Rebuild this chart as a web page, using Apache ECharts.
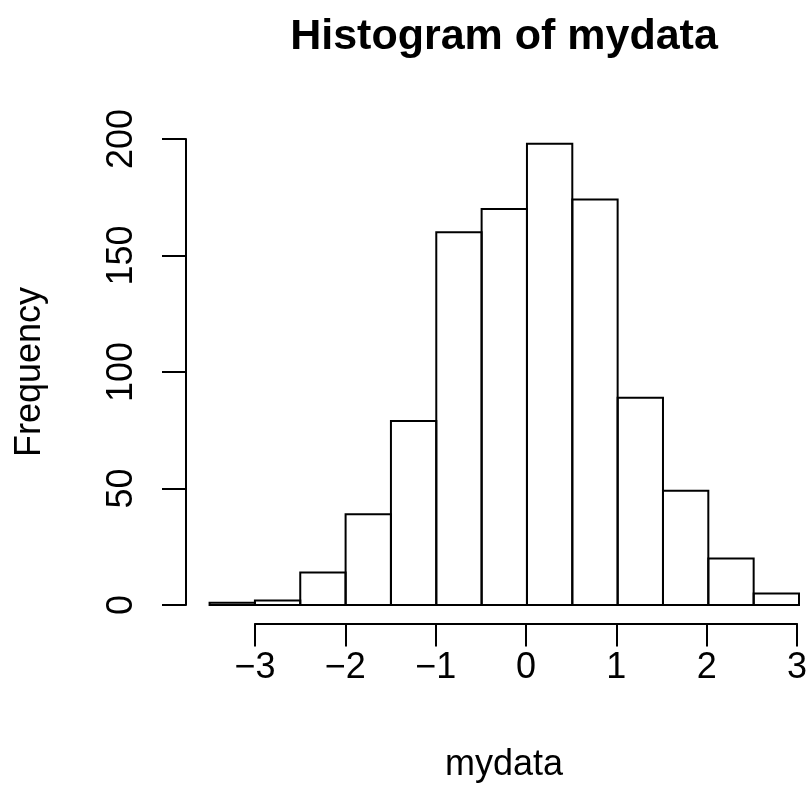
<!DOCTYPE html>
<html>
<head>
<meta charset="utf-8">
<script src="https://cdn.jsdelivr.net/npm/echarts@6/dist/echarts.min.js"></script>
<style>
html,body{margin:0;padding:0;background:#fff;}
#c{width:810px;height:806px;}
</style>
</head>
<body>
<div id="c"></div>
<script>
// Data
var binStarts = [-3.5, -3.0, -2.5, -2.0, -1.5, -1.0, -0.5, 0.0, 0.5, 1.0, 1.5, 2.0, 2.5];
var binWidth = 0.5;
var counts = [1, 2, 14, 39, 79, 160, 170, 198, 174, 89, 49, 20, 5];
var xTicks = [-3, -2, -1, 0, 1, 2, 3];
var yTicks = [0, 50, 100, 150, 200];
var titleText = 'Histogram of mydata';
var xTitle = 'mydata';
var yTitle = 'Frequency';

var FONT = '"Liberation Sans", Arial, Helvetica, sans-serif';
var chart = echarts.init(document.getElementById('c'), null, {renderer: 'canvas'});

var barData = binStarts.map(function (s, i) { return [s, s + binWidth, counts[i]]; });

var xSpan = binStarts[binStarts.length - 1] + binWidth - binStarts[0];
var xMin = binStarts[0] - 0.04 * xSpan;
var xMax = xTicks[xTicks.length - 1];
var yMaxC = Math.max.apply(null, counts);
var yMin = -0.04 * yMaxC;
var yMax = yMaxC * 1.04;

function fmt(v) { return v < 0 ? '\u2212' + Math.abs(v) : String(v); }

var option = {
  backgroundColor: '#ffffff',
  animation: false,
  grid: [
    {left: 186, top: 125.2, width: 613, height: 498.3},
    {left: 255, top: 125.2, width: 544, height: 498.3},
    {left: 186, top: 139, width: 613, height: 466}
  ],
  xAxis: [
    {gridIndex: 0, type: 'value', min: xMin, max: xMax, show: false},
    {gridIndex: 1, type: 'value', min: xTicks[0], max: xTicks[xTicks.length - 1], interval: 1, position: 'bottom',
      axisLine: {show: true, onZero: false, lineStyle: {color: '#000', width: 2}},
      axisTick: {show: true, length: 23, lineStyle: {color: '#000', width: 2}},
      axisLabel: {show: true, margin: 27, color: '#000', fontSize: 36, fontFamily: FONT, formatter: fmt},
      splitLine: {show: false}},
    {gridIndex: 2, type: 'value', min: xMin, max: xMax, show: false}
  ],
  yAxis: [
    {gridIndex: 0, type: 'value', min: yMin, max: yMax, show: false},
    {gridIndex: 1, type: 'value', min: yMin, max: yMax, show: false},
    {gridIndex: 2, type: 'value', min: yTicks[0], max: yTicks[yTicks.length - 1], interval: 50, position: 'left',
      axisLine: {show: true, onZero: false, lineStyle: {color: '#000', width: 2}},
      axisTick: {show: true, length: 24, lineStyle: {color: '#000', width: 2}},
      axisLabel: {show: true, margin: 46, rotate: 90, color: '#000', fontSize: 36, fontFamily: FONT},
      splitLine: {show: false}}
  ],
  series: [{
    type: 'custom',
    xAxisIndex: 0,
    yAxisIndex: 0,
    data: barData,
    encode: {x: [0, 1], y: 2},
    renderItem: function (params, api) {
      var p0 = api.coord([api.value(0), api.value(2)]);
      var p1 = api.coord([api.value(1), 0]);
      return {
        type: 'rect',
        shape: {x: p0[0], y: p0[1], width: p1[0] - p0[0], height: p1[1] - p0[1]},
        style: {fill: 'none', stroke: '#000', lineWidth: 2}
      };
    }
  }],
  graphic: [
    {type: 'text', x: 504, y: 37, style: {text: titleText, font: 'bold 43px ' + FONT, fill: '#000', align: 'center', verticalAlign: 'middle'}},
    {type: 'text', x: 504, y: 765, style: {text: xTitle, font: '36px ' + FONT, fill: '#000', align: 'center', verticalAlign: 'middle'}},
    {type: 'text', x: 30, y: 372, rotation: Math.PI / 2, style: {text: yTitle, font: '36px ' + FONT, fill: '#000', align: 'center', verticalAlign: 'middle'}}
  ]
};
chart.setOption(option);
</script>
</body>
</html>
